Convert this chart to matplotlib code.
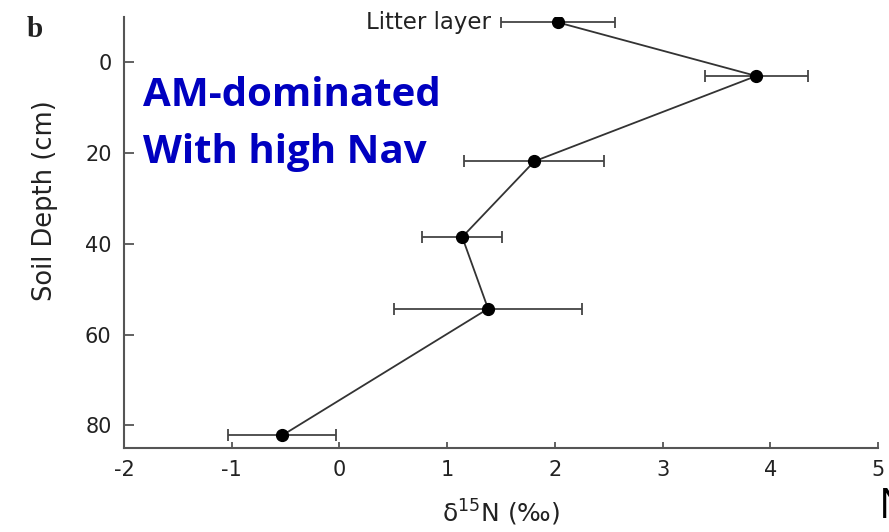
import matplotlib
matplotlib.use("Agg")
import matplotlib.pyplot as plt

# Data
delta15N = [2.03, 3.87, 1.81, 1.14, 1.38, -0.53]
depth_cm = [-8.8, 3.0, 21.8, 38.5, 54.3, 82.2]
err = [0.53, 0.48, 0.65, 0.37, 0.87, 0.50]
xticks = [-2, -1, 0, 1, 2, 3, 4, 5]
yticks = [0, 20, 40, 60, 80]

plt.rcParams['font.family'] = ['DejaVu Sans']
plt.rcParams['mathtext.fontset'] = 'custom'
plt.rcParams['mathtext.rm'] = 'DejaVu Sans'
plt.rcParams['mathtext.it'] = 'DejaVu Sans:italic'

W, H = 889, 532
fig = plt.figure(figsize=(W / 100, H / 100), dpi=100)
ax = fig.add_axes([124 / W, 1 - 448 / H, (878 - 124) / W, (448 - 17) / H])

ax.errorbar(delta15N, depth_cm, xerr=err, color='#333333', lw=1.3,
            marker='o', ms=8.5, mfc='black', mec='black',
            ecolor='#444444', elinewidth=1.3, capsize=4, capthick=1.3)

ax.set_xlim(-2, 5)
ax.set_ylim(85, -10)
ax.set_xticks(xticks)
ax.set_xticklabels([str(v) for v in xticks])
ax.set_yticks(yticks)
ax.set_yticklabels([str(v) for v in yticks])
for s in ['top', 'right']:
    ax.spines[s].set_visible(False)
for s in ['left', 'bottom']:
    ax.spines[s].set_color('#555555')
    ax.spines[s].set_linewidth(1.5)
ax.tick_params(axis='y', direction='in', length=7, width=1.3, color='#555555',
               labelsize=15, pad=9, labelcolor='#222222')
ax.tick_params(axis='x', direction='in', length=4, width=1.3, color='#555555',
               labelsize=15, pad=9, labelcolor='#222222')

ax.set_ylabel('Soil Depth (cm)', fontsize=18.5, color='#222222')
ax.yaxis.set_label_coords(-0.088, 0.575)
ax.set_xlabel(r'δ$^{15}$N (‰)', fontsize=18, color='#222222')
ax.xaxis.set_label_coords(0.5, -0.116)

ax.text(1.41, depth_cm[0], 'Litter layer', ha='right', va='center',
        fontsize=16.5, color='#222222')

fig.text(27 / W, 1 - 37 / H, 'b', fontsize=21, fontweight='bold',
         family='Liberation Serif', color='#222222', va='baseline')

fig.text(143 / W, 1 - 106 / H, 'AM-dominated', fontsize=29, fontweight='bold',
         family='Open Sans', color='#0000C0', va='baseline')
fig.text(143 / W, 1 - 163 / H, 'With high Nav', fontsize=29, fontweight='bold',
         family='Open Sans', color='#0000C0', va='baseline')

fig.text(879 / W, 1 - 518 / H, 'N', fontsize=30, family='Open Sans',
         color='black', va='baseline')

fig.savefig('out.png', dpi=100)
